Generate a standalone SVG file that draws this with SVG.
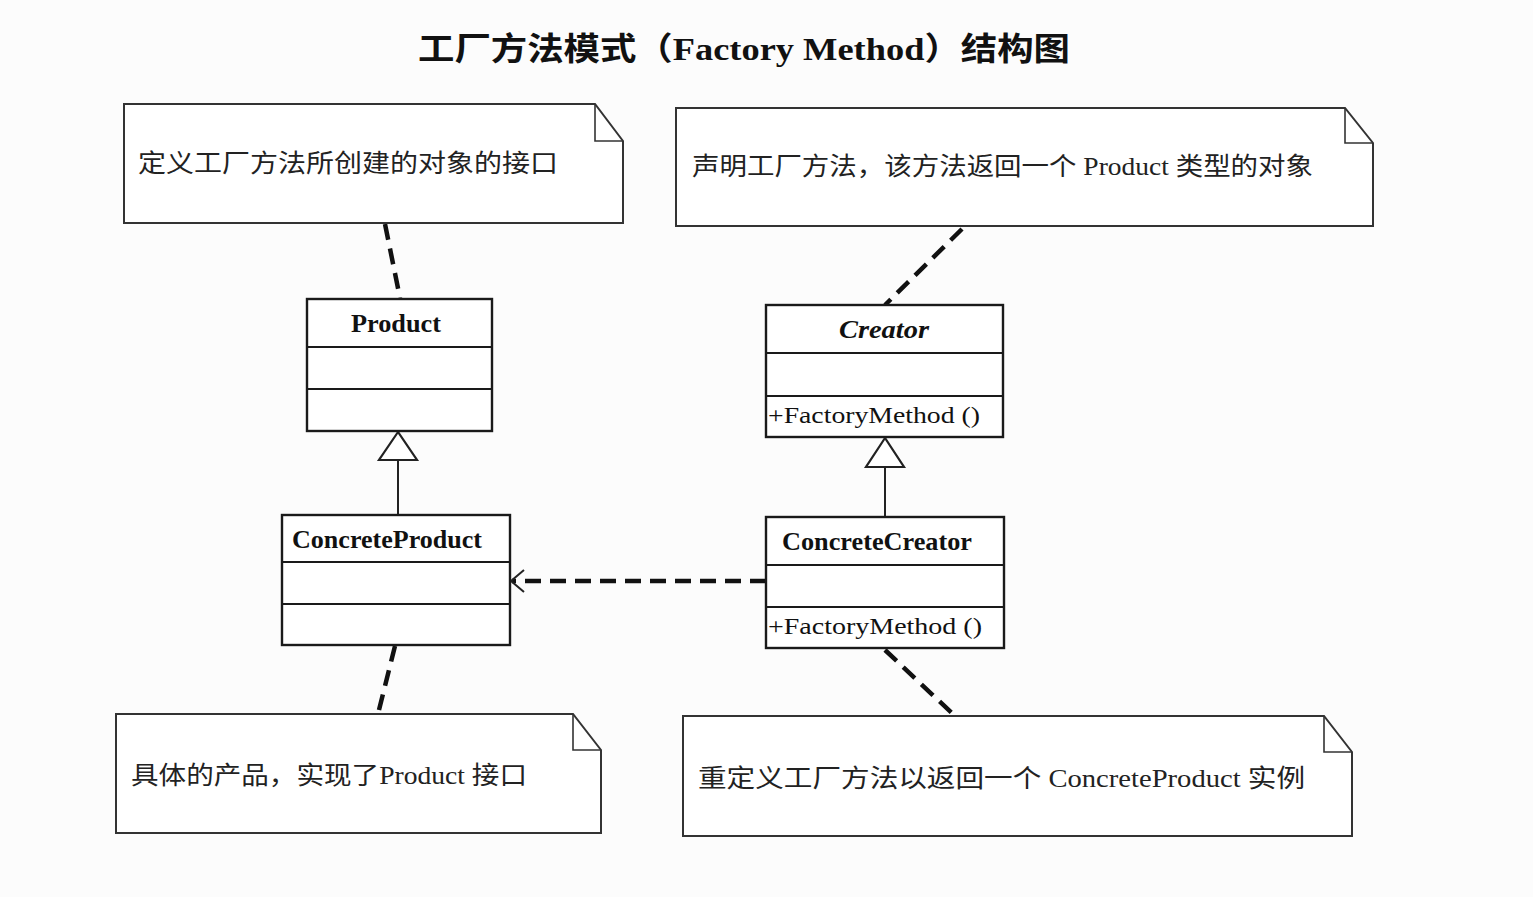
<svg xmlns="http://www.w3.org/2000/svg" width="1533" height="897" viewBox="0 0 1533 897">
<style>
.note{fill:#fff;stroke:#333;stroke-width:2}
.fold{fill:none;stroke:#333;stroke-width:1.6}
.cls{fill:#fff;stroke:#1a1a1a;stroke-width:2.4}
.div{stroke:#1a1a1a;stroke-width:2.2}
.ntxt{font-family:"Liberation Serif","Noto Sans CJK SC",serif;font-size:25px;fill:#222}
.cname{font-family:"Liberation Serif","Noto Sans CJK SC",serif;font-size:25px;font-weight:bold;fill:#111}
.meth{font-family:"Liberation Serif",serif;font-size:24px;fill:#111}
.dash{fill:none;stroke:#111;stroke-width:4.5;stroke-dasharray:16 9}
.gen{fill:none;stroke:#222;stroke-width:2}
.tri{fill:#fff;stroke:#222;stroke-width:2.2}
</style>
<rect width="1533" height="897" fill="#fcfcfc"/>
<text x="744" y="60" text-anchor="middle" font-family="'Liberation Serif','Noto Sans CJK SC',serif" font-size="32" font-weight="bold" fill="#111" textLength="652" lengthAdjust="spacingAndGlyphs">工厂方法模式（Factory Method）结构图</text>

<g id="connectors">
  <line class="dash" x1="385" y1="224" x2="400" y2="298"/>
  <line class="dash" x1="962" y1="229" x2="885" y2="305"/>
  <line class="dash" x1="395" y1="646" x2="378" y2="714"/>
  <line class="dash" x1="885" y1="650" x2="955" y2="716"/>
  <line class="dash" x1="766" y1="581" x2="512" y2="581"/>
  <polyline class="gen" points="524,570 511,581 524,592"/>
  <line class="gen" x1="398" y1="460" x2="398" y2="515"/>
  <polygon class="tri" points="398,432 379,460 417,460"/>
  <line class="gen" x1="885" y1="467" x2="885" y2="517"/>
  <polygon class="tri" points="885,438 866,467 904,467"/>
</g>

<g id="note-product">
  <path class="note" d="M124,104 L595,104 L623,141 L623,223 L124,223 Z"/>
  <polyline class="fold" points="595,104 595,141 623,141"/>
  <text class="ntxt" x="138" y="172" textLength="420" lengthAdjust="spacingAndGlyphs">定义工厂方法所创建的对象的接口</text>
</g>

<g id="note-creator">
  <path class="note" d="M676,108 L1345,108 L1373,143 L1373,226 L676,226 Z"/>
  <polyline class="fold" points="1345,108 1345,143 1373,143"/>
  <text class="ntxt" x="692" y="175" textLength="621" lengthAdjust="spacingAndGlyphs">声明工厂方法，该方法返回一个 Product 类型的对象</text>
</g>

<g id="note-concreteproduct">
  <path class="note" d="M116,714 L573,714 L601,750 L601,833 L116,833 Z"/>
  <polyline class="fold" points="573,714 573,750 601,750"/>
  <text class="ntxt" x="131" y="784" textLength="396" lengthAdjust="spacingAndGlyphs">具体的产品，实现了Product 接口</text>
</g>

<g id="note-concretecreator">
  <path class="note" d="M683,716 L1324,716 L1352,752 L1352,836 L683,836 Z"/>
  <polyline class="fold" points="1324,716 1324,752 1352,752"/>
  <text class="ntxt" x="698" y="787" textLength="607" lengthAdjust="spacingAndGlyphs">重定义工厂方法以返回一个 ConcreteProduct 实例</text>
</g>

<g id="product">
  <rect class="cls" x="307" y="299" width="185" height="132"/>
  <line class="div" x1="307" y1="347" x2="492" y2="347"/>
  <line class="div" x1="307" y1="389" x2="492" y2="389"/>
  <text class="cname" x="396" y="332" text-anchor="middle" textLength="90" lengthAdjust="spacingAndGlyphs">Product</text>
</g>

<g id="concreteproduct">
  <rect class="cls" x="282" y="515" width="228" height="130"/>
  <line class="div" x1="282" y1="562" x2="510" y2="562"/>
  <line class="div" x1="282" y1="604" x2="510" y2="604"/>
  <text class="cname" x="292" y="548" textLength="190" lengthAdjust="spacingAndGlyphs">ConcreteProduct</text>
</g>

<g id="creator">
  <rect class="cls" x="766" y="305" width="237" height="132"/>
  <line class="div" x1="766" y1="353" x2="1003" y2="353"/>
  <line class="div" x1="766" y1="396" x2="1003" y2="396"/>
  <text class="cname" x="884" y="338" text-anchor="middle" font-style="italic" textLength="90" lengthAdjust="spacingAndGlyphs">Creator</text>
  <text class="meth" x="768" y="423" textLength="212" lengthAdjust="spacingAndGlyphs">+FactoryMethod ()</text>
</g>

<g id="concretecreator">
  <rect class="cls" x="766" y="517" width="238" height="131"/>
  <line class="div" x1="766" y1="565" x2="1004" y2="565"/>
  <line class="div" x1="766" y1="607" x2="1004" y2="607"/>
  <text class="cname" x="782" y="550" textLength="190" lengthAdjust="spacingAndGlyphs">ConcreteCreator</text>
  <text class="meth" x="768" y="634" textLength="214" lengthAdjust="spacingAndGlyphs">+FactoryMethod ()</text>
</g>
</svg>
